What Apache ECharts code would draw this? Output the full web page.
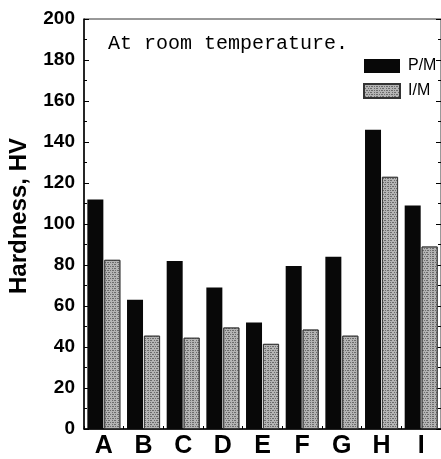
<!DOCTYPE html>
<html>
<head>
<meta charset="utf-8">
<script src="https://cdn.jsdelivr.net/npm/echarts@6/dist/echarts.min.js"></script>
<style>
  html, body { margin: 0; padding: 0; background: #fff; }
  #chart { width: 441px; height: 459px; }
</style>
</head>
<body>
<div id="chart"></div>
<script>
const categories = ['A', 'B', 'C', 'D', 'E', 'F', 'G', 'H', 'I']
const pmValues = [112, 63, 82, 69, 52, 79.5, 84, 146, 109]
const imValues = [82.5, 45.5, 44.5, 49.5, 41.5, 48.5, 45.5, 123, 89]
const yTicks = { min: 0, max: 200, interval: 20 }

const chart = echarts.init(document.getElementById('chart'))

// speckled grey fill of the I/M bars
const imDecal = {
  symbol: 'rect',
  symbolSize: 1,
  dashArrayX: [[1, 1, 2, 1], [2, 2, 1, 1]],
  dashArrayY: [1, 1],
  color: 'rgba(60, 60, 60, 0.6)',
  backgroundColor: null
}

const option = {
  animation: false,
  grid: {
    left: 84,
    top: 19,
    width: 360,
    height: 411,
    show: true,
    borderColor: '#333',
    borderWidth: 1
  },
  legend: {
    left: 363,
    top: 58,
    padding: 0,
    orient: 'vertical',
    itemWidth: 36,
    itemHeight: 14,
    itemGap: 9,
    icon: 'rect',
    textStyle: {
      fontFamily: 'Liberation Sans, Arial',
      fontSize: 16,
      color: '#000',
      padding: [0, 0, 0, 3]
    },
    data: ['P/M', 'I/M']
  },
  xAxis: {
    type: 'category',
    data: categories,
    axisLine: { lineStyle: { color: '#000', width: 1.5 } },
    axisTick: { show: true, inside: true, length: 3, lineStyle: { color: '#000' } },
    axisLabel: {
      color: '#000',
      fontFamily: 'Liberation Sans, Arial',
      fontWeight: 'bold',
      fontSize: 25,
      margin: 5
    }
  },
  yAxis: [
    {
      type: 'value',
      min: yTicks.min,
      max: yTicks.max,
      interval: yTicks.interval,
      axisLine: { show: true, lineStyle: { color: '#000', width: 1.5 } },
      axisTick: { show: true, inside: true, length: 5, lineStyle: { color: '#000' } },
      minorTick: { show: true, splitNumber: 2, length: 3, lineStyle: { color: '#000' } },
      splitLine: { show: false },
      axisLabel: {
        color: '#000',
        fontFamily: 'Liberation Sans, Arial',
        fontWeight: 'bold',
        fontSize: 19,
        margin: 9
      }
    },
    {
      type: 'value',
      position: 'right',
      min: yTicks.min,
      max: yTicks.max,
      interval: yTicks.interval,
      axisLine: { show: true, lineStyle: { color: '#000' } },
      axisTick: { show: true, inside: true, length: 5, lineStyle: { color: '#000' } },
      minorTick: { show: true, splitNumber: 2, length: 3, lineStyle: { color: '#000' } },
      splitLine: { show: false },
      axisLabel: { show: false }
    }
  ],
  series: [
    {
      name: 'P/M',
      type: 'bar',
      data: pmValues,
      barWidth: 16,
      barGap: '6%',
      itemStyle: { color: '#080808' }
    },
    {
      name: 'I/M',
      type: 'bar',
      data: imValues,
      barWidth: 16,
      itemStyle: {
        color: '#b4b4b4',
        borderColor: '#333',
        borderWidth: 0.8,
        decal: imDecal
      }
    }
  ],
  graphic: [
    {
      type: 'text',
      left: 108,
      top: 34,
      style: {
        text: 'At room temperature.',
        fontFamily: 'Liberation Mono, Courier New',
        fontSize: 20,
        fill: '#000'
      }
    },
    {
      type: 'text',
      x: 19.5,
      y: 216,
      rotation: Math.PI / 2,
      style: {
        text: 'Hardness, HV',
        fontFamily: 'Liberation Sans, Arial',
        fontWeight: 'bold',
        fontSize: 24,
        fill: '#000',
        align: 'center',
        verticalAlign: 'middle'
      }
    }
  ]
}

chart.setOption(option)
</script>
</body>
</html>
